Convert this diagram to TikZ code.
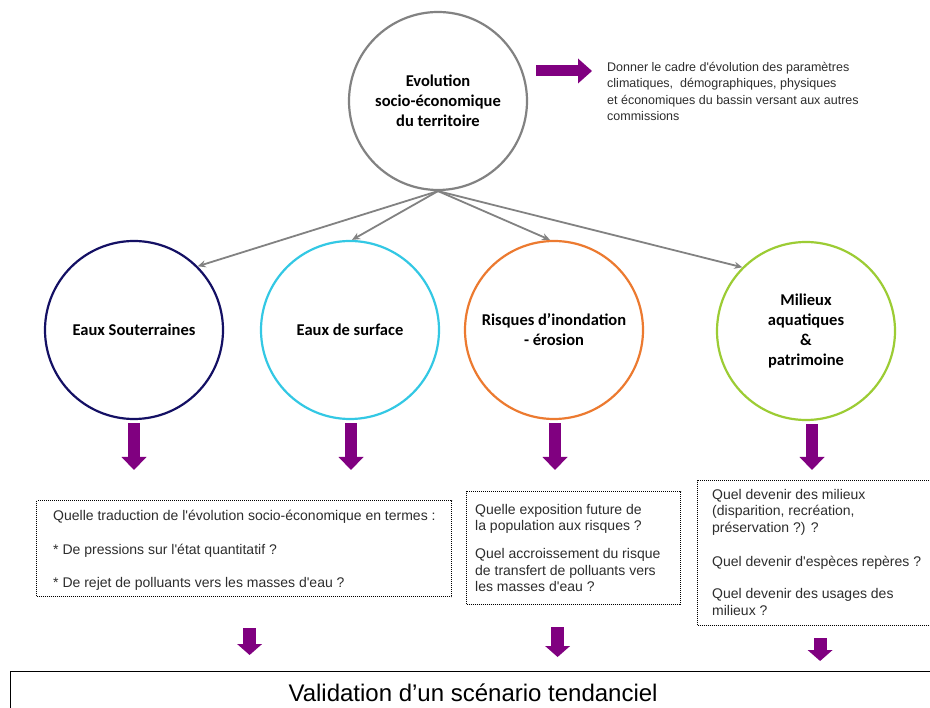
\documentclass[tikz,border=0pt]{standalone}
\usepackage{fontspec}
\setmainfont{Liberation Sans}[Ligatures=TeXOff]
\newfontfamily\calib{Carlito}
\usetikzlibrary{arrows.meta}
\definecolor{navyc}{RGB}{20,16,100}
\definecolor{cyanc}{RGB}{51,200,228}
\definecolor{orangec}{RGB}{236,122,48}
\definecolor{greenc}{RGB}{156,204,52}
\definecolor{purp}{RGB}{128,0,128}
\definecolor{grayc}{RGB}{130,130,130}
\definecolor{txt}{RGB}{45,45,45}
\begin{document}
\begin{tikzpicture}[x=1pt,y=-1pt,
 topic/.style={circle, line width=2.2pt, minimum size=178pt, inner sep=0pt, align=center,
   font=\calib\bfseries\fontsize{16.5}{20}\selectfont, text=black},
 link/.style={draw=grayc, line width=1.8pt, -{Stealth[length=8pt,width=7pt]}},
 bigarrow/.style={draw=purp, line width=12pt, -{Triangle[length=13pt,width=25pt,line width=0pt]}},
 smallarrow/.style={draw=purp, line width=13pt, -{Triangle[length=11pt,width=25pt,line width=0pt]}},
 sidearrow/.style={draw=purp, line width=11pt, -{Triangle[length=14pt,width=25pt,line width=0pt]}},
 qbox/.style={draw=black, dash pattern=on 1pt off 1pt, line width=1.2pt, inner sep=0pt, anchor=north west},
 qtext/.style={anchor=north west, inner sep=0pt, align=left, text=txt, font=\fontsize{14}{16.5}\selectfont},
]
\useasboundingbox (0,0) rectangle (930,708);
\fill[white] (0,0) rectangle (930,708);

% circles
\node[topic, draw=grayc] (evo) at (438,101) {Evolution\\socio-économique\\du territoire};
\node[topic, draw=navyc] (sout) at (134,330) {Eaux Souterraines};
\node[topic, draw=cyanc] (surf) at (350,330) {Eaux de surface};
\node[topic, draw=orangec] (risk) at (554,330) {Risques d’inondation\\- érosion};
\node[topic, draw=greenc] (mil) at (806,331) {Milieux\\aquatiques\\\&\\patrimoine};

% note on the right
\node[qtext, font=\fontsize{12.5}{16.5}\selectfont] (note) at (607,62)
 {Donner le cadre d'évolution des paramètres\\climatiques,\ \ démographiques, physiques\\et économiques du bassin versant aux autres\\commissions};
\coordinate (ra) at (536,71);
\draw[sidearrow, shorten >=15pt] (ra) -- (note.west |- ra);

% gray links
\draw[link] (evo.south) -- (sout.45);
\draw[link] (evo.south) -- ([xshift=2pt]surf.north);
\draw[link] (evo.south) -- ([xshift=-4pt]risk.north);
\draw[link] (evo.south) -- (mil.135);

% question boxes
\node[qbox, minimum width=415pt, minimum height=96pt] (q1) at (36,500) {};
\node[qbox, minimum width=214pt, minimum height=113pt] (q2) at (466,491) {};
\node[qbox, minimum width=245pt, minimum height=145pt] (q3) at (697,480) {};

\node[qtext] (t1) at (53,510)
 {Quelle traduction de l'évolution socio-économique en termes :\\[17pt]
  * De pressions sur l'état quantitatif ?\\[17pt]
  * De rejet de polluants vers les masses d'eau ?};
\node[qtext] (t2) at (475,504)
 {Quelle exposition future de\\la population aux risques ?\\[11.5pt]
  Quel accroissement du risque\\de transfert de polluants vers\\les masses d'eau ?};
\node[qtext] (t3) at (712,489)
 {Quel devenir des milieux\\(disparition, recréation,\\préservation ?) ?\\[18pt]
  Quel devenir d'espèces repères ?\\[15.5pt]
  Quel devenir des usages des\\milieux ?};

% bottom box
\node[draw=black, line width=1.2pt, minimum width=925pt, minimum height=42pt, anchor=north west,
  inner sep=0pt, font=\fontsize{24}{28}\selectfont, text=black] (valid) at (10,671)
  {Validation d’un scénario tendanciel};

% purple arrows circles -> boxes
\draw[bigarrow, shorten <=3pt, shorten >=30pt] (sout.south) -- (sout.south |- q1.north);
\draw[bigarrow, shorten <=3pt, shorten >=30pt] ([xshift=1pt]surf.south) -- ([xshift=1pt]surf.south |- q1.north);
\draw[bigarrow, shorten <=3pt, shorten >=21pt] ([xshift=1pt]risk.south) -- ([xshift=1pt]risk.south |- q2.north);
\draw[bigarrow, shorten <=3pt, shorten >=10pt] ([xshift=6pt]mil.south) -- ([xshift=6pt]mil.south |- q3.north);

% purple arrows boxes -> validation
\draw[smallarrow, shorten <=31pt, shorten >=16pt] ([xshift=5.5pt]q1.south) -- ([xshift=5.5pt]q1.south |- valid.north);
\draw[smallarrow, shorten <=22pt, shorten >=14pt] ([xshift=-16pt]q2.south) -- ([xshift=-16pt]q2.south |- valid.north);
\draw[smallarrow, shorten <=12pt, shorten >=10pt] ([xshift=0pt]q3.south) -- ([xshift=0pt]q3.south |- valid.north);
\end{tikzpicture}
\end{document}
